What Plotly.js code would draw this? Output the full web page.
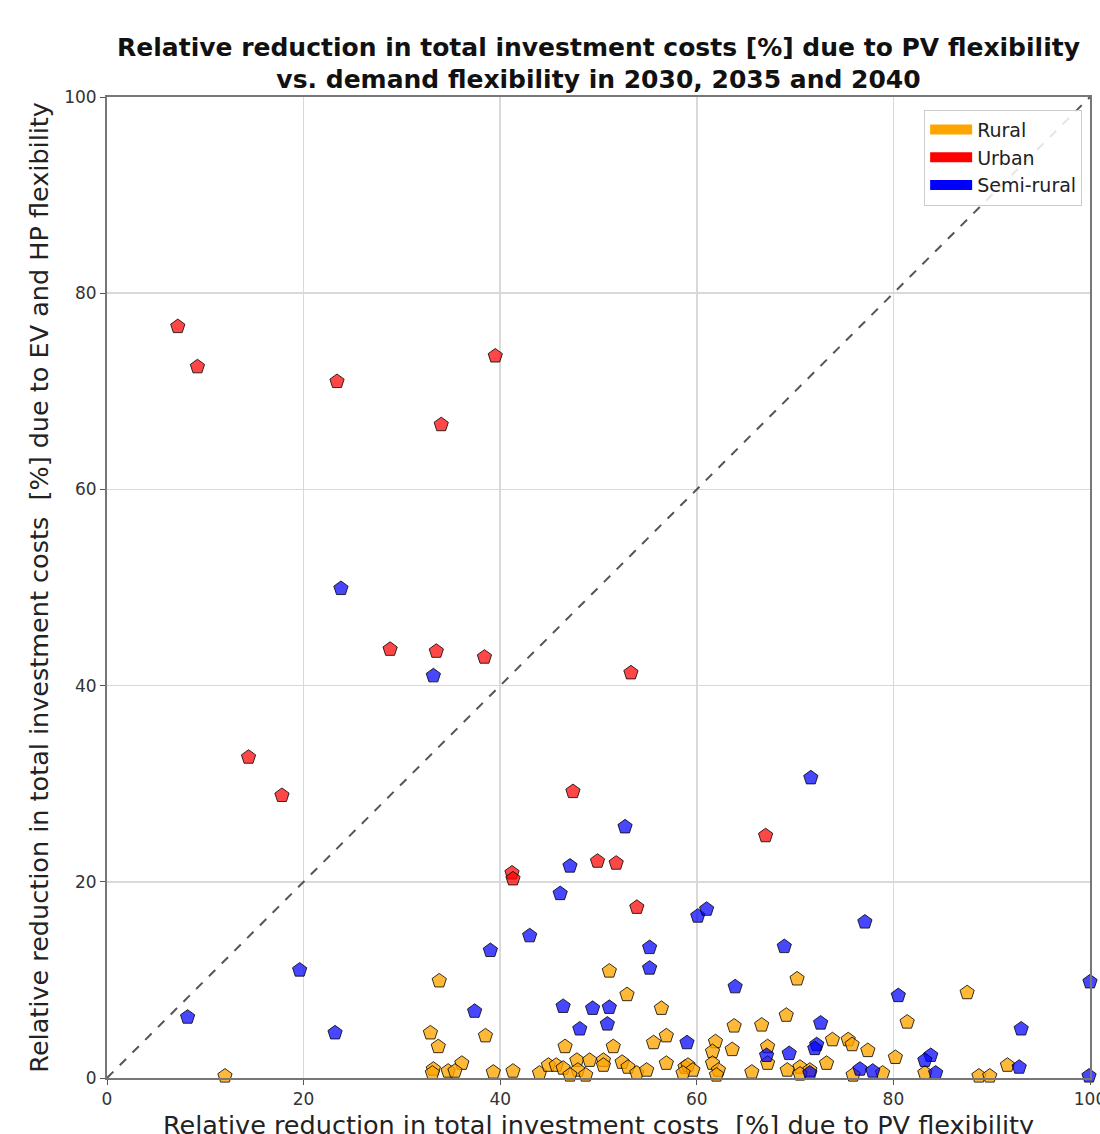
<!DOCTYPE html>
<html>
<head>
<meta charset="utf-8">
<script src="https://cdn.plot.ly/plotly-3.0.1.min.js"></script>
<style>html,body{margin:0;padding:0;background:#fff}#chart{width:1100px;height:1134px}</style>
</head>
<body>
<div id="chart"></div>
<script>
// Rural (orange)
const ruralX = [12.0, 33.8, 32.9, 33.7, 38.5, 36.1, 33.2, 33.1, 34.7, 35.4, 39.3, 41.3, 44.0, 44.9, 45.7, 46.4, 46.6, 47.8, 49.1, 47.9, 48.7, 47.1,
  51.1, 52.9, 56.4, 51.5, 55.6, 56.9, 56.9, 50.5, 50.5, 52.4, 53.0, 53.9, 54.9, 58.8, 59.1, 59.6, 58.6, 61.9, 61.6, 61.6, 62.2, 62.0,
  70.2, 69.1, 63.8, 66.6, 63.6, 67.2, 67.2, 65.6, 69.2, 70.5, 71.5, 70.5, 73.2, 73.8, 75.4, 75.8, 77.4, 75.9,
  87.5, 81.4, 80.2, 78.9, 83.2, 91.6, 88.7, 89.8];
const ruralY = [0.2, 9.9, 4.6, 3.2, 4.3, 1.5, 0.9, 0.5, 0.7, 0.7, 0.6, 0.7, 0.5, 1.3, 1.3, 1.0, 3.2, 1.8, 1.8, 0.8, 0.3, 0.3,
  10.9, 8.5, 7.1, 3.2, 3.6, 4.3, 1.5, 1.8, 1.3, 1.6, 1.1, 0.5, 0.8, 1.1, 1.3, 0.8, 0.5, 3.7, 2.7, 1.5, 0.8, 0.3,
  10.1, 6.4, 5.3, 5.4, 2.9, 3.2, 1.5, 0.6, 0.8, 1.1, 0.8, 0.4, 1.5, 3.9, 3.9, 3.4, 2.8, 0.3,
  8.7, 5.7, 2.1, 0.5, 0.5, 1.3, 0.2, 0.2];

// Urban (red)
const urbanX = [7.2, 9.2, 23.4, 34.0, 39.5, 28.8, 33.5, 38.4, 53.3, 14.4, 17.8, 47.4, 67.0, 49.9, 51.8, 41.2, 41.3, 53.9];
const urbanY = [76.6, 72.5, 71.0, 66.6, 73.6, 43.7, 43.5, 42.9, 41.3, 32.7, 28.8, 29.2, 24.7, 22.1, 21.9, 20.9, 20.3, 17.4];

// Semi-rural (blue)
const semiX = [23.8, 33.2, 71.6, 52.7, 47.1, 46.1, 60.1, 61.0, 77.1, 43.0, 39.0, 68.9, 55.2, 55.2, 19.6, 100.0, 63.9, 80.5,
  8.2, 37.4, 46.4, 49.4, 51.1, 50.9, 48.1, 72.6, 93.0, 23.2, 59.0, 72.2, 72.0, 67.1, 69.4, 83.8, 83.2, 92.8, 76.6, 77.9, 84.3, 99.9, 71.5];
const semiY = [49.9, 41.0, 30.6, 25.6, 21.6, 18.8, 16.5, 17.2, 15.9, 14.5, 13.0, 13.4, 13.3, 11.2, 11.0, 9.8, 9.3, 8.4,
  6.2, 6.8, 7.3, 7.1, 7.2, 5.5, 5.0, 5.6, 5.0, 4.6, 3.6, 3.4, 3.0, 2.3, 2.5, 2.3, 1.8, 1.1, 0.9, 0.7, 0.5, 0.2, 0.5];

const seriesNames = ['Rural', 'Urban', 'Semi-rural'];
const seriesColors = ['rgba(255,165,0,0.78)', 'rgba(255,0,0,0.72)', 'rgba(0,0,255,0.72)'];
const legendColors = ['#FFA500', '#FF0000', '#0000FF'];
const diagX = [0, 100];
const diagY = [0, 100];

const titleText = 'Relative reduction in total investment costs [%] due to PV flexibility<br>vs. demand flexibility in 2030, 2035 and 2040';
const xLabel = 'Relative reduction in total investment costs  [%] due to PV flexibility';
const yLabel = 'Relative reduction in total investment costs  [%] due to EV and HP flexibility';
const tickVals = [0, 20, 40, 60, 80, 100];

const data = [];
data.push({x: diagX, y: diagY, mode: 'lines', line: {color: '#555555', width: 2, dash: 'dash'}, showlegend: false, hoverinfo: 'skip'});
const sets = [[ruralX, ruralY], [urbanX, urbanY], [semiX, semiY]];
sets.forEach((s, i) => {
  data.push({x: s[0], y: s[1], mode: 'markers', type: 'scatter', name: seriesNames[i], showlegend: false, cliponaxis: false,
    marker: {symbol: 'pentagon', size: 15, color: seriesColors[i], line: {color: 'rgba(0,0,0,0.8)', width: 1}}});
});
seriesNames.forEach((n, i) => {
  data.push({x: [null], y: [null], mode: 'lines', name: n, line: {color: legendColors[i], width: 16}, showlegend: true});
});

const axisCommon = {
  range: [0, 100], tickvals: tickVals, showgrid: true, gridcolor: '#d9d9d9', gridwidth: 1.5,
  zeroline: false, showline: true, linecolor: '#777777', linewidth: 2, mirror: true,
  ticks: 'outside', ticklen: 5, tickcolor: '#555555', ticklabeloverflow: 'allow',
  tickfont: {family: 'DejaVu Sans', size: 17, color: '#333333'}
};

const layout = {
  width: 1100, height: 1134,
  margin: {l: 107, r: 10, t: 97, b: 56},
  paper_bgcolor: '#ffffff', plot_bgcolor: '#ffffff',
  title: {text: titleText, font: {family: 'DejaVu Sans', size: 25, color: '#111111', weight: 'bold'},
    xref: 'paper', x: 0.5, xanchor: 'center', yref: 'container', y: 0.951, yanchor: 'top'},
  xaxis: Object.assign({}, axisCommon, {automargin: false}),
  yaxis: Object.assign({}, axisCommon, {automargin: false}),
  legend: {x: 0.992, y: 0.987, xanchor: 'right', yanchor: 'top', bgcolor: 'rgba(255,255,255,0.85)',
    bordercolor: '#cccccc', borderwidth: 1, font: {family: 'DejaVu Sans', size: 19, color: '#222222'},
    itemwidth: 42, tracegroupgap: 2},
  annotations: [
    {text: xLabel, xref: 'paper', yref: 'paper', x: 0.5, y: -0.048, xanchor: 'center', yanchor: 'middle', showarrow: false,
      font: {family: 'DejaVu Sans', size: 25.5, color: '#222222'}},
    {text: yLabel, xref: 'paper', yref: 'paper', x: -0.07, y: 0.5, xanchor: 'center', yanchor: 'middle', showarrow: false, textangle: -90,
      font: {family: 'DejaVu Sans', size: 25.5, color: '#222222'}}
  ],
  showlegend: true
};

Plotly.newPlot('chart', data, layout, {displayModeBar: false, staticPlot: true});
</script>
</body>
</html>
